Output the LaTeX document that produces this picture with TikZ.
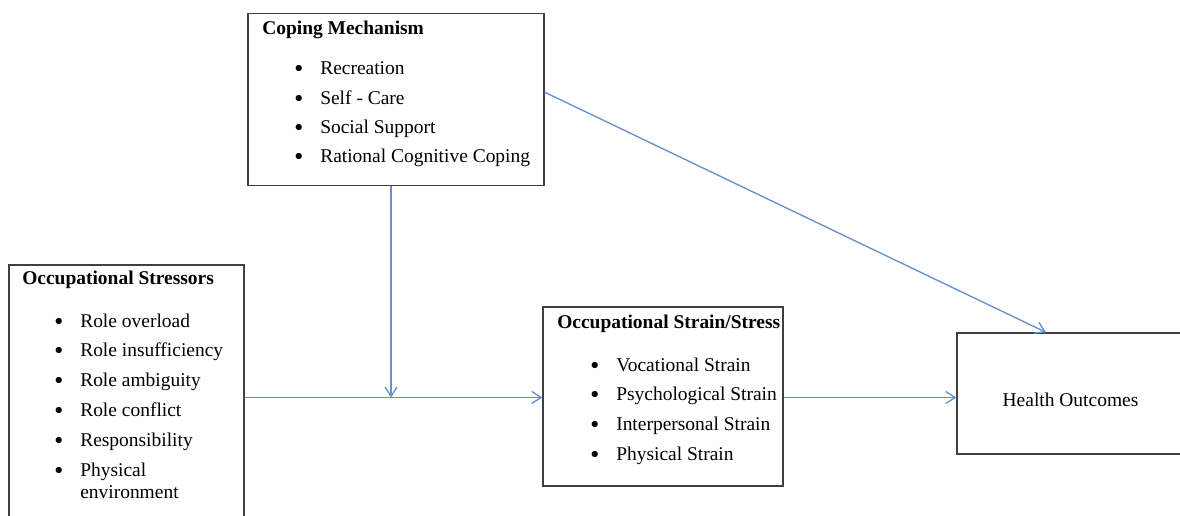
\documentclass[tikz,border=0pt]{standalone}
\usepackage{fontspec}
\setmainfont{Liberation Serif}
\usetikzlibrary{arrows.meta,positioning}
\definecolor{linkblue}{RGB}{100,145,205}
\definecolor{boxgray}{RGB}{64,64,64}
\newcommand{\fsize}{\fontsize{14.6pt}{17pt}\selectfont}
\newcommand{\dotmark}{\raisebox{1.5pt}{\fontsize{12pt}{12pt}\selectfont$\bullet$}}
\tikzset{>={Straight Barb[length=7pt,width=9pt]},
         box/.style={draw=boxgray, line width=1pt, rectangle, inner sep=0pt},
         head/.style={anchor=base west, inner sep=0pt, font=\fsize\bfseries},
         txt/.style={anchor=base west, inner sep=0pt, font=\fsize},
         item/.style={txt, execute at begin node={\llap{\dotmark\hspace{13pt}}}},
         link/.style={->, draw=linkblue, line width=1pt}}

\begin{document}
\begin{tikzpicture}[x=0.75pt,y=-0.75pt]
  \useasboundingbox (0,0) rectangle (1180,516);
  \node[box, minimum width=222pt, minimum height=129pt] (cope) at (396,99.5) {};
  \node[box, minimum width=176.25pt, minimum height=198.75pt] (stress) at (126.5,397.5) {};
  \node[box, minimum width=180pt, minimum height=134.25pt] (strain) at (663,396.5) {};
  \node[box, minimum width=170.25pt, minimum height=90.75pt] (health) at (1070.5,393.5) {};

  \node[head] (cope-t) at (262,35) {Coping Mechanism};
  \foreach \t [count=\i] in {Recreation, Self - Care, Social Support, Rational Cognitive Coping}
    \node[item] (cope-\i) at (320,{75+29.3*(\i-1)}) {\t};

  \node[head] (stress-t) at (22,285) {Occupational Stressors};
  \foreach \t [count=\i] in {Role overload, Role insufficiency, Role ambiguity,
                             Role conflict, Responsibility, Physical}
    \node[item] (stress-\i) at (80,{327+29.8*(\i-1)}) {\t};
  \node[txt] (stress-7) at (80,498) {environment};

  \node[head] (strain-t) at (557,328) {Occupational Strain/Stress};
  \foreach \t [count=\i] in {Vocational Strain, Psychological Strain,
                             Interpersonal Strain, Physical Strain}
    \node[item] (strain-\i) at (616,{371+29.8*(\i-1)}) {\t};

  \node[txt, anchor=base] (health-t) at (1070.5,406) {Health Outcomes};

  \coordinate (meet) at ([xshift=-3.75pt]cope.south |- stress.east);
  \draw[link] ([xshift=-3.75pt]cope.south) -- (meet);
  \draw[link] (stress.east) -- (stress.east -| strain.west);
  \draw[link] (strain.east |- stress.east) -- (stress.east -| health.west);
  \draw[link] ([yshift=5.5pt]cope.east) -- ([xshift=-18.4pt]health.north);
\end{tikzpicture}
\end{document}
